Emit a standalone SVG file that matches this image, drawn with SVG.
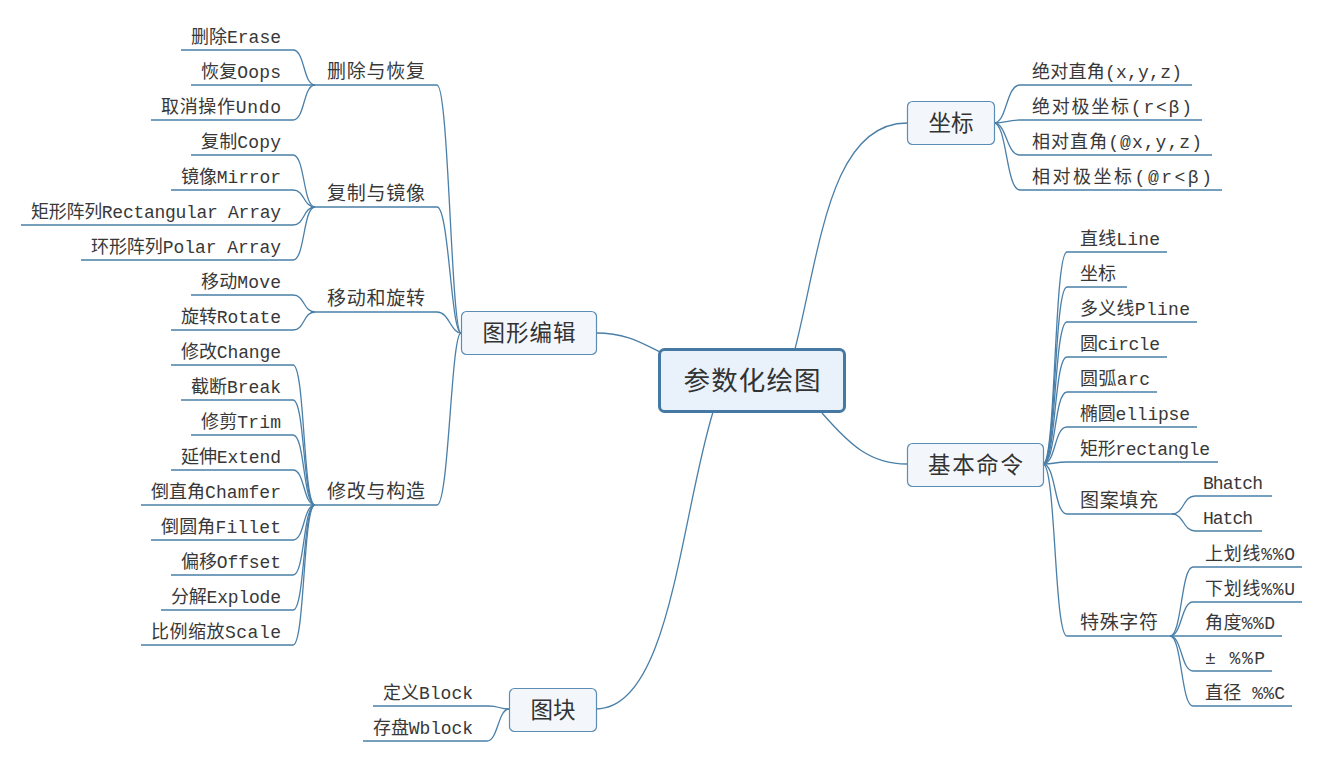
<svg xmlns="http://www.w3.org/2000/svg" width="1323" height="762" viewBox="0 0 1323 762">
<style>
.bg{fill:#ffffff}
.ln{fill:none;stroke:#4a7fa8;stroke-width:1.3}
.lf{font-family:'Liberation Mono','Courier New','Noto Sans CJK SC',monospace;font-size:18px;fill:#383838}
.sub{font-family:'Noto Sans CJK SC',sans-serif;font-size:19px;fill:#383838}
.tp{font-family:'Noto Sans CJK SC',sans-serif;font-size:22.5px;fill:#333333;text-anchor:middle}
.tb{fill:#f3f7fc;stroke:#5b8cb4;stroke-width:1.2}
.cb{fill:#e9f1fb;stroke:#4578a3;stroke-width:3}
.ct{font-family:'Noto Sans CJK SC',sans-serif;font-size:26.5px;fill:#333333;text-anchor:middle}
.e{text-anchor:end}
</style>
<rect class="bg" x="0" y="0" width="1323" height="762"/>
<g id="connectors">
<path class="ln" d="M795,349 C820,250 830,123 907,123"/>
<path class="ln" d="M822,413 C850,445 870,464 907,464"/>
<path class="ln" d="M596,333 C625,333 640,342 660,352"/>
<path class="ln" d="M713,412 C680,520 670,709 596,709"/>
<path class="ln" d="M315,85 H437 C449,85 451,333 461,333"/>
<path class="ln" d="M315,207 H437 C449,207 451,333 461,333"/>
<path class="ln" d="M315,312 H437 C449,312 451,333 461,333"/>
<path class="ln" d="M315,505 H437 C449,505 451,333 461,333"/>
<path class="ln" d="M181,50 H293 C305,50 303,85 315,85"/>
<path class="ln" d="M191,85 H315"/>
<path class="ln" d="M151,120 H293 C305,120 303,85 315,85"/>
<path class="ln" d="M191,155 H293 C305,155 303,207 315,207"/>
<path class="ln" d="M171,190 H293 C305,190 303,207 315,207"/>
<path class="ln" d="M21,225 H293 C305,225 303,207 315,207"/>
<path class="ln" d="M81,260 H293 C305,260 303,207 315,207"/>
<path class="ln" d="M191,295 H293 C305,295 303,312 315,312"/>
<path class="ln" d="M171,330 H293 C305,330 303,312 315,312"/>
<path class="ln" d="M171,365 H293 C305,365 303,505 315,505"/>
<path class="ln" d="M181,400 H293 C305,400 303,505 315,505"/>
<path class="ln" d="M191,435 H293 C305,435 303,505 315,505"/>
<path class="ln" d="M171,470 H293 C305,470 303,505 315,505"/>
<path class="ln" d="M141,505 H315"/>
<path class="ln" d="M151,540 H293 C305,540 303,505 315,505"/>
<path class="ln" d="M171,575 H293 C305,575 303,505 315,505"/>
<path class="ln" d="M161,610 H293 C305,610 303,505 315,505"/>
<path class="ln" d="M141,645 H293 C305,645 303,505 315,505"/>
<path class="ln" d="M373,706 H489 C499,706 499,709 509,709"/>
<path class="ln" d="M363,741 H487 C498,741 498,709 509,709"/>
<path class="ln" d="M994,123 C1007,123 1006,85 1020,85 H1192"/>
<path class="ln" d="M994,123 C1007,123 1006,120 1020,120 H1202"/>
<path class="ln" d="M994,123 C1007,123 1006,155 1020,155 H1212"/>
<path class="ln" d="M994,123 C1007,123 1006,190 1020,190 H1222"/>
<path class="ln" d="M1043,464 C1056,464 1054,252 1067,252 H1167"/>
<path class="ln" d="M1043,464 C1056,464 1054,287 1067,287 H1127"/>
<path class="ln" d="M1043,464 C1056,464 1054,322 1067,322 H1197"/>
<path class="ln" d="M1043,464 C1056,464 1054,357 1067,357 H1167"/>
<path class="ln" d="M1043,464 C1056,464 1054,392 1067,392 H1157"/>
<path class="ln" d="M1043,464 C1056,464 1054,427 1067,427 H1197"/>
<path class="ln" d="M1043,464 C1056,464 1054,462 1067,462 H1218"/>
<path class="ln" d="M1043,464 C1056,464 1054,514 1067,514 H1172"/>
<path class="ln" d="M1043,464 C1056,464 1054,636 1067,636 H1170"/>
<path class="ln" d="M1172,514 C1184,514 1183,496 1195,496 H1272"/>
<path class="ln" d="M1172,514 C1184,514 1183,531 1195,531 H1262"/>
<path class="ln" d="M1170,636 C1182,636 1181,567 1193,567 H1302"/>
<path class="ln" d="M1170,636 C1182,636 1181,602 1193,602 H1302"/>
<path class="ln" d="M1170,636 H1282"/>
<path class="ln" d="M1170,636 C1182,636 1181,671 1193,671 H1272"/>
<path class="ln" d="M1170,636 C1182,636 1181,706 1193,706 H1292"/>
</g>
<g id="center">
<rect class="cb" x="659.5" y="349.5" width="185" height="62" rx="5"/>
<text class="ct" x="752" y="390" textLength="137">参数化绘图</text>
</g>
<g id="topic-zuobiao">
<rect class="tb" x="907.5" y="101.5" width="87" height="43" rx="5"/>
<text class="tp" x="951" y="131">坐标</text>
</g>
<g id="topic-jiben">
<rect class="tb" x="907.5" y="443.5" width="136" height="43" rx="5"/>
<text class="tp" x="975.5" y="473" textLength="95">基本命令</text>
</g>
<g id="topic-tuxing">
<rect class="tb" x="461.5" y="311.5" width="135" height="43" rx="5"/>
<text class="tp" x="529" y="341" textLength="93">图形编辑</text>
</g>
<g id="topic-tukuai">
<rect class="tb" x="509.5" y="688.5" width="87" height="43" rx="5"/>
<text class="tp" x="553" y="718">图块</text>
</g>
<g id="sub-delete">
<text class="sub" x="327" y="78" textLength="98">删除与恢复</text>
<text class="lf e" x="281" y="43" textLength="90">删除Erase</text>
<text class="lf e" x="281" y="78" textLength="80">恢复Oops</text>
<text class="lf e" x="281" y="113" textLength="120">取消操作Undo</text>
</g>
<g id="sub-copy">
<text class="sub" x="327" y="200" textLength="98">复制与镜像</text>
<text class="lf e" x="281" y="148" textLength="80">复制Copy</text>
<text class="lf e" x="281" y="183" textLength="100">镜像Mirror</text>
<text class="lf e" x="281" y="218" textLength="250">矩形阵列Rectangular Array</text>
<text class="lf e" x="281" y="253" textLength="190">环形阵列Polar Array</text>
</g>
<g id="sub-move">
<text class="sub" x="327" y="305" textLength="98">移动和旋转</text>
<text class="lf e" x="281" y="288" textLength="80">移动Move</text>
<text class="lf e" x="281" y="323" textLength="100">旋转Rotate</text>
</g>
<g id="sub-modify">
<text class="sub" x="327" y="498" textLength="98">修改与构造</text>
<text class="lf e" x="281" y="358" textLength="100">修改Change</text>
<text class="lf e" x="281" y="393" textLength="90">截断Break</text>
<text class="lf e" x="281" y="428" textLength="80">修剪Trim</text>
<text class="lf e" x="281" y="463" textLength="100">延伸Extend</text>
<text class="lf e" x="281" y="498" textLength="130">倒直角Chamfer</text>
<text class="lf e" x="281" y="533" textLength="120">倒圆角Fillet</text>
<text class="lf e" x="281" y="568" textLength="100">偏移Offset</text>
<text class="lf e" x="281" y="603" textLength="110">分解Explode</text>
<text class="lf e" x="281" y="638" textLength="130">比例缩放Scale</text>
</g>
<g id="sub-block">
<text class="lf e" x="473" y="699" textLength="90">定义Block</text>
<text class="lf e" x="473" y="734" textLength="100">存盘Wblock</text>
</g>
<g id="sub-coords">
<text class="lf" x="1032" y="78" textLength="150">绝对直角(x,y,z)</text>
<text class="lf" x="1032" y="113" textLength="160">绝对极坐标(r&lt;β)</text>
<text class="lf" x="1032" y="148" textLength="170">相对直角(@x,y,z)</text>
<text class="lf" x="1032" y="183" textLength="180">相对极坐标(@r&lt;β)</text>
</g>
<g id="sub-basic">
<text class="lf" x="1080" y="245" textLength="80">直线Line</text>
<text class="lf" x="1080" y="280">坐标</text>
<text class="lf" x="1080" y="315" textLength="110">多义线Pline</text>
<text class="lf" x="1080" y="350" textLength="80">圆circle</text>
<text class="lf" x="1080" y="385" textLength="70">圆弧arc</text>
<text class="lf" x="1080" y="420" textLength="110">椭圆ellipse</text>
<text class="lf" x="1080" y="455" textLength="130">矩形rectangle</text>
</g>
<g id="sub-hatch">
<text class="sub" x="1080" y="507" textLength="78">图案填充</text>
<text class="lf" x="1203" y="489" textLength="60">Bhatch</text>
<text class="lf" x="1203" y="524" textLength="50">Hatch</text>
</g>
<g id="sub-special">
<text class="sub" x="1080" y="629" textLength="78">特殊字符</text>
<text class="lf" x="1205" y="560" textLength="90">上划线%%O</text>
<text class="lf" x="1205" y="595" textLength="90">下划线%%U</text>
<text class="lf" x="1205" y="629" textLength="70">角度%%D</text>
<text class="lf" x="1205" y="664" textLength="60">± %%P</text>
<text class="lf" x="1205" y="699" textLength="80">直径 %%C</text>
</g>
</svg>
